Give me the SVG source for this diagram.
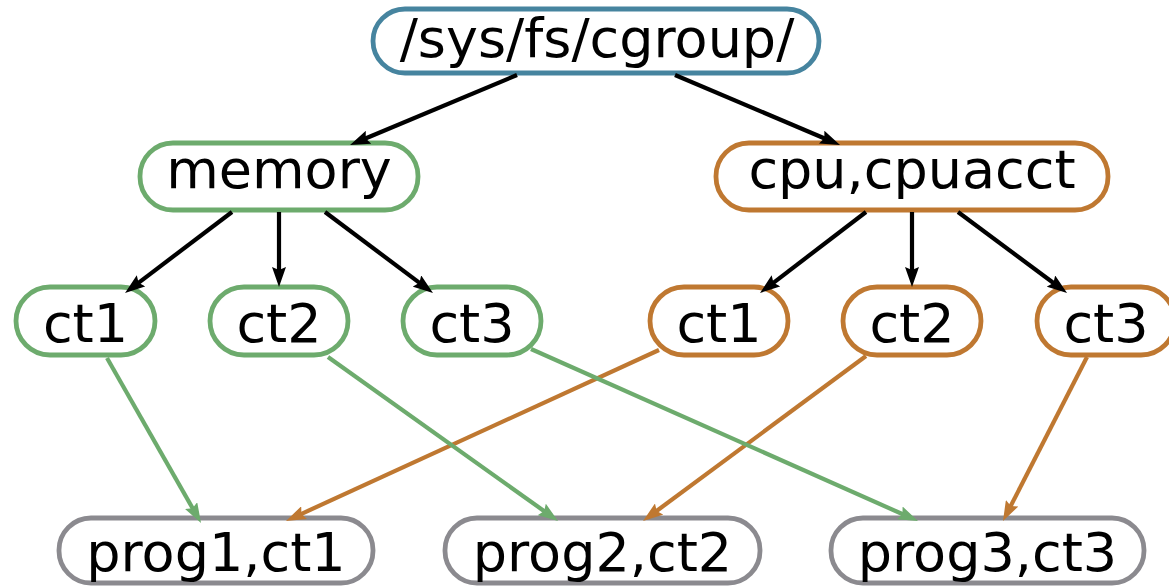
<svg xmlns="http://www.w3.org/2000/svg" width="1169" height="587" viewBox="0 0 1169 587">
  <style>
    .box { fill: #ffffff; stroke-width: 4.8; }
    .root { stroke: #46849f; }
    .mem { stroke: #6dab6d; }
    .cpu { stroke: #bf7831; }
    .prog { stroke: #8b8a8f; }
    .lbl { font-family: "DejaVu Sans", "Liberation Sans", sans-serif; font-size: 54px; fill: #000000; text-anchor: middle; }
    .e { fill: none; stroke-width: 4.2; }
    .ek { stroke: #000000; }
    .eg { stroke: #6dab6d; }
    .eo { stroke: #bf7831; }
  </style>
  <defs>
    <marker id="ahK" viewBox="0 0 20 14" refX="4" refY="7" markerWidth="20" markerHeight="14" markerUnits="userSpaceOnUse" orient="auto">
      <path d="M0,0 L20,7 L0,14 L3,7 Z" fill="#000000"/>
    </marker>
    <marker id="ahG" viewBox="0 0 20 14" refX="4" refY="7" markerWidth="20" markerHeight="14" markerUnits="userSpaceOnUse" orient="auto">
      <path d="M0,0 L20,7 L0,14 L3,7 Z" fill="#6dab6d"/>
    </marker>
    <marker id="ahO" viewBox="0 0 20 14" refX="4" refY="7" markerWidth="20" markerHeight="14" markerUnits="userSpaceOnUse" orient="auto">
      <path d="M0,0 L20,7 L0,14 L3,7 Z" fill="#bf7831"/>
    </marker>
  </defs>

  <!-- hierarchy nodes -->
  <g id="root">
    <rect class="box root" x="373" y="9" width="446" height="64" rx="32"/>
    <text class="lbl" x="597" y="57">/sys/fs/cgroup/</text>
  </g>
  <g id="memory">
    <rect class="box mem" x="140" y="143" width="278" height="67" rx="33"/>
    <text class="lbl" x="279" y="188">memory</text>
  </g>
  <g id="cpu">
    <rect class="box cpu" x="716" y="143" width="392" height="67" rx="33"/>
    <text class="lbl" x="912" y="188">cpu,cpuacct</text>
  </g>
  <g id="mem-ct1">
    <rect class="box mem" x="16" y="287" width="139" height="68" rx="34"/>
    <text class="lbl" x="85.5" y="342">ct1</text>
  </g>
  <g id="mem-ct2">
    <rect class="box mem" x="210" y="287" width="138" height="68" rx="34"/>
    <text class="lbl" x="279" y="342">ct2</text>
  </g>
  <g id="mem-ct3">
    <rect class="box mem" x="403" y="287" width="138" height="68" rx="34"/>
    <text class="lbl" x="472" y="342">ct3</text>
  </g>
  <g id="cpu-ct1">
    <rect class="box cpu" x="650" y="287" width="138" height="68" rx="34"/>
    <text class="lbl" x="719" y="342">ct1</text>
  </g>
  <g id="cpu-ct2">
    <rect class="box cpu" x="843" y="287" width="138" height="68" rx="34"/>
    <text class="lbl" x="912" y="342">ct2</text>
  </g>
  <g id="cpu-ct3">
    <rect class="box cpu" x="1037" y="287" width="138" height="68" rx="34"/>
    <text class="lbl" x="1106" y="342">ct3</text>
  </g>
  <g id="prog1">
    <rect class="box prog" x="59" y="518" width="314" height="65" rx="32"/>
    <text class="lbl" x="216" y="571">prog1,ct1</text>
  </g>
  <g id="prog2">
    <rect class="box prog" x="445" y="518" width="315" height="65" rx="32"/>
    <text class="lbl" x="602.5" y="571">prog2,ct2</text>
  </g>
  <g id="prog3">
    <rect class="box prog" x="831" y="518" width="313" height="65" rx="32"/>
    <text class="lbl" x="987.5" y="571">prog3,ct3</text>
  </g>

  <!-- connectors -->
  <g id="edges">
    <path class="e ek" d="M517,75 L364.8,138.8" marker-end="url(#ahK)"/>
    <path class="e ek" d="M675,75 L825.3,138.7" marker-end="url(#ahK)"/>
    <path class="e ek" d="M232,212 L137.8,283.3" marker-end="url(#ahK)"/>
    <path class="e ek" d="M279,212 L279,271" marker-end="url(#ahK)"/>
    <path class="e ek" d="M325,212 L420.2,283.4" marker-end="url(#ahK)"/>
    <path class="e ek" d="M866,212 L772.7,283.3" marker-end="url(#ahK)"/>
    <path class="e ek" d="M912,212 L912,271" marker-end="url(#ahK)"/>
    <path class="e ek" d="M958,212 L1054.2,283.5" marker-end="url(#ahK)"/>
    <path class="e eg" d="M107,358 L193.1,509.1" marker-end="url(#ahG)"/>
    <path class="e eo" d="M659,350 L300.5,514.3" marker-end="url(#ahO)"/>
    <path class="e eg" d="M328,357 L545,511.7" marker-end="url(#ahG)"/>
    <path class="e eo" d="M866,356 L655.9,511.5" marker-end="url(#ahO)"/>
    <path class="e eg" d="M531,349 L903.4,514.5" marker-end="url(#ahG)"/>
    <path class="e eo" d="M1087,357 L1010.3,506.8" marker-end="url(#ahO)"/>
  </g>
</svg>
